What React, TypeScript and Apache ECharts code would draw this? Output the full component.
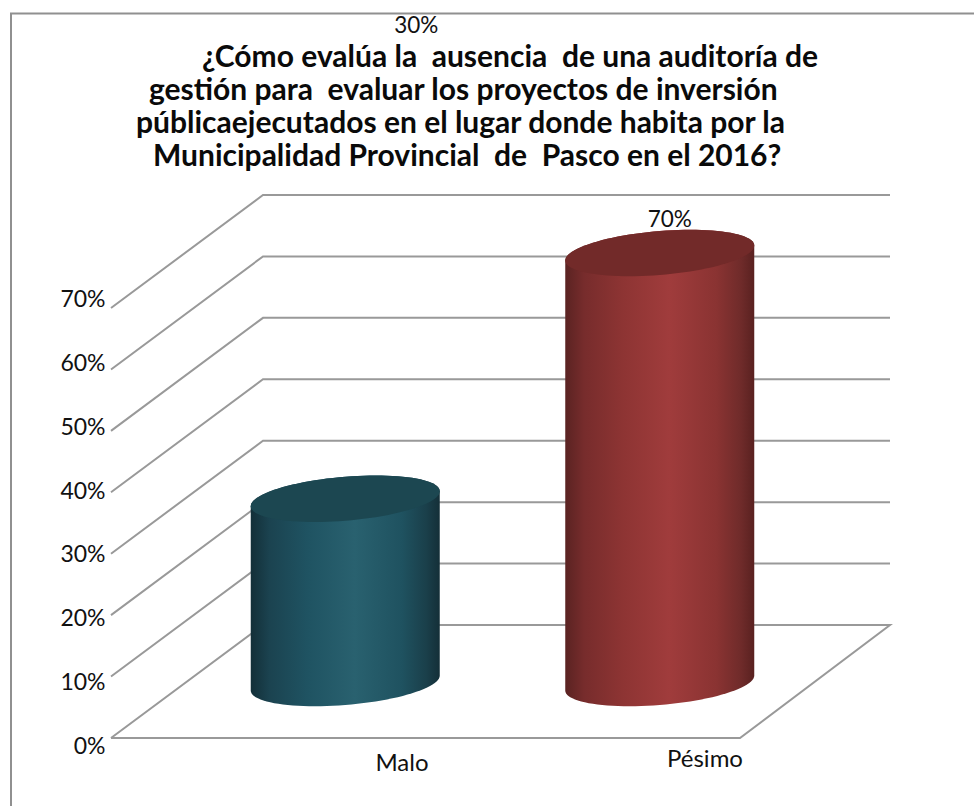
import React, { useEffect, useRef } from "react";
import * as echarts from "echarts";

const categories = ["Malo", "Pésimo"];
const values = [30, 70];
const ticks = [0, 10, 20, 30, 40, 50, 60, 70];
const titleLines = [
  "¿Cómo evalúa la  ausencia  de una auditoría de",
  "gestión para  evaluar los proyectos de inversión",
  "públicaejecutados en el lugar donde habita por la",
  "Municipalidad Provincial  de  Pasco en el 2016?",
];

const FONT = "Lato";
const titleX = [202, 149, 136, 153];
const titleY = [55, 88, 121, 154];
const depth = { x: 152, y: 113 };
const sideHalfDepth = { x: 77, y: 55 };
const rx = 94.5, ry = 22, skew = 7.5;
const labelOffset = [
  [71, -474],
  [10, -35],
];
const bodyStops = [
  [{ o: 0, c: "#132f38" }, { o: 0.1, c: "#1b4350" }, { o: 0.3, c: "#1f5362" }, { o: 0.55, c: "#29616f" }, { o: 0.8, c: "#1f5260" }, { o: 0.93, c: "#1a3f4a" }, { o: 1, c: "#142f38" }],
  [{ o: 0, c: "#5a2322" }, { o: 0.1, c: "#772c2c" }, { o: 0.3, c: "#8d3433" }, { o: 0.55, c: "#a03c3c" }, { o: 0.8, c: "#8a3332" }, { o: 0.93, c: "#6f2b2a" }, { o: 1, c: "#592120" }],
];
const capColors = ["#1c4751", "#722a29"];

function ellipse(cx: number, cy: number, from: number, to: number, n = 48) {
  const pts: number[][] = [];
  for (let i = 0; i <= n; i++) {
    const t = from + ((to - from) * i) / n;
    pts.push([cx + rx * Math.cos(t), cy - skew * Math.cos(t) + ry * Math.sin(t)]);
  }
  return pts;
}

export default function App() {
  const ref = useRef<HTMLDivElement>(null);
  useEffect(() => {
    const chart = echarts.init(ref.current!, null, { renderer: "svg" });
    const lineStyle = { stroke: "#999999", lineWidth: 2, fill: "none" };
    chart.setOption({
      animation: false,
      backgroundColor: "#ffffff",
      textStyle: { fontFamily: FONT },
      graphic: [
        { type: "line", silent: true, shape: { x1: 10, y1: 13.5, x2: 974, y2: 13.5 }, style: { stroke: "#909090", lineWidth: 2 } },
        { type: "line", silent: true, shape: { x1: 11, y1: 13, x2: 11, y2: 806 }, style: { stroke: "#909090", lineWidth: 2 } },
        ...titleLines.map((text, i) => ({
          type: "text",
          silent: true,
          x: titleX[i],
          y: titleY[i],
          style: { text, fill: "#0a0a0a", font: `bold 30px ${FONT}`, lineHeight: 30, verticalAlign: "middle" },
        })),
      ],
      grid: [
        { left: 111, top: 308, width: 629, height: 430 },
        { left: 250.5, top: 298, width: 606, height: 447 },
      ],
      xAxis: [
        { type: "category", gridIndex: 0, data: categories, axisLine: { show: false }, axisTick: { show: false }, axisLabel: { show: false }, splitLine: { show: false } },
        {
          type: "category",
          gridIndex: 1,
          data: [
            { value: categories[0], textStyle: { padding: [4, 0, 0, 0] } },
            { value: categories[1], textStyle: { padding: [0, 0, 0, 0] } },
          ],
          axisLine: { show: false },
          axisTick: { show: false },
          splitLine: { show: false },
          axisLabel: { margin: 0, fontSize: 24, color: "#111111", fontFamily: FONT },
        },
      ],
      yAxis: [
        { type: "value", gridIndex: 0, min: 0, max: 70, interval: 10, axisLine: { show: false }, axisTick: { show: false }, axisLabel: { show: false }, splitLine: { show: false } },
        {
          type: "value",
          gridIndex: 1,
          min: 0,
          max: 70,
          interval: 10,
          axisLine: { show: false },
          axisTick: { show: false },
          splitLine: { show: false },
          axisLabel: { margin: 145, fontSize: 23, color: "#111111", fontFamily: FONT, formatter: "{value}%" },
        },
      ],
      series: [
        {
          type: "custom",
          xAxisIndex: 0,
          yAxisIndex: 0,
          z: 1,
          silent: true,
          data: ticks.map((t) => [t]),
          encode: { y: 0 },
          renderItem: (_p: any, api: any) => {
            const t = api.value(0);
            const [xL, y] = api.coord([0, t]);
            const band = api.size([1, 0])[0];
            const x0 = xL - band / 2;
            const x1 = x0 + band * 2;
            const pts = [
              [x0, y],
              [x0 + depth.x, y - depth.y],
              [x1 + depth.x - 2, y - depth.y],
            ];
            if (t === 0) pts.push([x1, y], [x0, y]);
            return { type: "polyline", shape: { points: pts }, style: lineStyle };
          },
        },
        {
          type: "custom",
          xAxisIndex: 0,
          yAxisIndex: 0,
          z: 2,
          silent: true,
          data: categories.map((_, i) => [i, values[i]]),
          encode: { x: 0, y: 1 },
          renderItem: (_p: any, api: any) => {
            const i = api.value(0);
            const v = api.value(1);
            const base = api.coord([i, 0]);
            const top = api.coord([i, v]);
            const cx = base[0] + sideHalfDepth.x;
            const by = base[1] - sideHalfDepth.y;
            const ty = top[1] - sideHalfDepth.y;
            const body = [...ellipse(cx, by, 0, Math.PI), ...ellipse(cx, ty, Math.PI, 2 * Math.PI)];
            const stops = bodyStops[i].map((s) => ({ offset: s.o, color: s.c }));
            return {
              type: "group",
              children: [
                { type: "polygon", shape: { points: body }, style: { fill: new echarts.graphic.LinearGradient(0, 0, 1, 0, stops) } },
                { type: "polygon", shape: { points: ellipse(cx, ty, 0, 2 * Math.PI, 96) }, style: { fill: capColors[i] } },
                {
                  type: "text",
                  x: cx + labelOffset[i][0],
                  y: ty + labelOffset[i][1],
                  style: { text: `${v}%`, fill: "#111111", font: `22.5px ${FONT}`, lineHeight: 22, align: "center", verticalAlign: "middle" },
                },
              ],
            };
          },
        },
      ],
    });
    return () => chart.dispose();
  }, []);
  return <div ref={ref} style={{ position: "absolute", left: 0, top: 0, width: 974, height: 806 }} />;
}
